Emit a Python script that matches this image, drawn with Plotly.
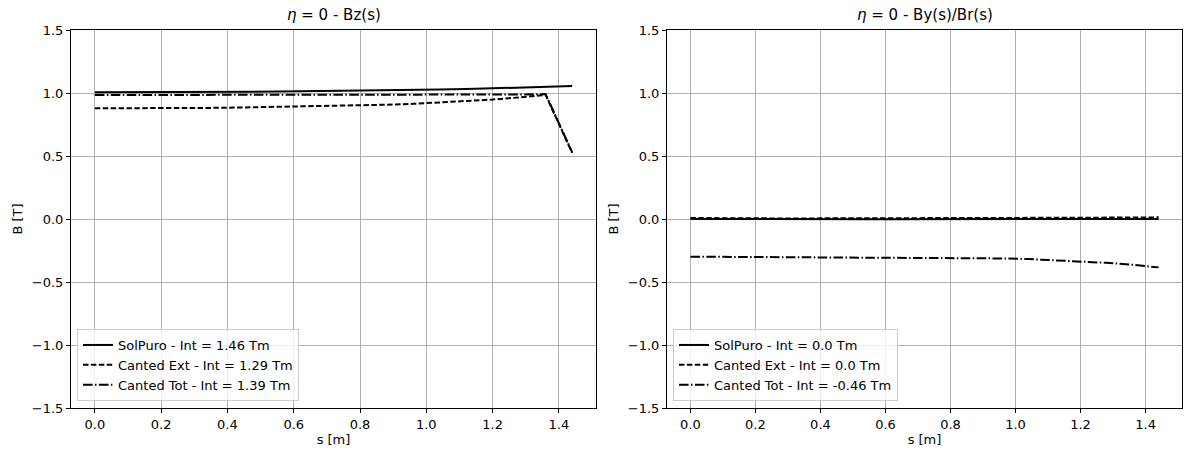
import plotly.graph_objects as go

s = [0.00, 0.08, 0.16, 0.24, 0.32, 0.40, 0.48, 0.56, 0.64, 0.72,
     0.80, 0.88, 0.96, 1.04, 1.12, 1.20, 1.28, 1.36, 1.44]

bz_solpuro = [1.005, 1.005, 1.006, 1.006, 1.007, 1.008, 1.009, 1.011, 1.013, 1.015,
              1.017, 1.020, 1.023, 1.027, 1.031, 1.036, 1.042, 1.048, 1.055]
bz_ext = [0.879, 0.878, 0.878, 0.879, 0.881, 0.883, 0.886, 0.889, 0.893, 0.897,
          0.901, 0.907, 0.914, 0.924, 0.935, 0.948, 0.965, 0.985, 0.525]
bz_tot = [0.984, 0.984, 0.984, 0.984, 0.984, 0.984, 0.984, 0.984, 0.984, 0.984,
          0.984, 0.984, 0.984, 0.984, 0.985, 0.986, 0.988, 0.991, 0.530]

by_solpuro = [0.000, -0.001, -0.002, -0.002, -0.002, -0.002, -0.002, -0.002, -0.001, -0.001,
              -0.001, -0.001, 0.000, 0.000, 0.000, 0.000, 0.000, 0.000, 0.000]
by_ext = [0.008, 0.006, 0.004, 0.004, 0.004, 0.005, 0.005, 0.006, 0.006, 0.007,
          0.007, 0.008, 0.008, 0.009, 0.010, 0.010, 0.011, 0.012, 0.013]
by_tot = [-0.299, -0.300, -0.300, -0.301, -0.301, -0.302, -0.302, -0.303, -0.303, -0.304,
          -0.305, -0.308, -0.313, -0.318, -0.326, -0.336, -0.348, -0.363, -0.384]

names_left = ["SolPuro - Int = 1.46 Tm", "Canted Ext - Int = 1.29 Tm", "Canted Tot - Int = 1.39 Tm"]
names_right = ["SolPuro - Int = 0.0 Tm", "Canted Ext - Int = 0.0 Tm", "Canted Tot - Int = -0.46 Tm"]
titles = ["<i>η</i> = 0 - Bz(s)", "<i>η</i> = 0 - By(s)/Br(s)"]
x_ticks = [0.0, 0.2, 0.4, 0.6, 0.8, 1.0, 1.2, 1.4]
y_ticks = [-1.5, -1.0, -0.5, 0.0, 0.5, 1.0, 1.5]

dashes = ["solid", "5.5px,2.4px", "9.6px,2.4px,1.5px,2.4px"]

fig = go.Figure()
for vals, name, d in zip([bz_solpuro, bz_ext, bz_tot], names_left, dashes):
    fig.add_trace(go.Scatter(x=s, y=vals, mode="lines", name=name,
                             line=dict(color="black", width=2, dash=d),
                             xaxis="x", yaxis="y", legend="legend"))
for vals, name, d in zip([by_solpuro, by_ext, by_tot], names_right, dashes):
    fig.add_trace(go.Scatter(x=s, y=vals, mode="lines", name=name,
                             line=dict(color="black", width=2, dash=d),
                             xaxis="x2", yaxis="y2", legend="legend2"))

W, H = 1192, 452
ytop, ybot = 30, 408
dom_y = [1 - ybot / H, 1 - ytop / H]
dom_x1 = [71 / W, 596 / W]
dom_x2 = [667 / W, 1182 / W]

font = dict(family="DejaVu Sans", size=13, color="black")

def xaxis(dom, anchor):
    return dict(domain=dom, anchor=anchor, range=[-0.072, 1.512], tickvals=x_ticks,
                ticktext=[f"{v:.1f}" for v in x_ticks], automargin=False,
                showline=True, mirror=True, linecolor="black", linewidth=1,
                ticks="outside", ticklen=4, tickcolor="black",
                showgrid=True, gridcolor="#b0b0b0", gridwidth=1, zeroline=False,
                title=dict(text="s [m]", font=font, standoff=4), tickfont=font)

def yaxis(anchor):
    return dict(domain=dom_y, anchor=anchor, range=[-1.5, 1.5], tickvals=y_ticks,
                ticktext=[f"{v:.1f}".replace("-", "\u2212") for v in y_ticks], automargin=False,
                showline=True, mirror=True, linecolor="black", linewidth=1,
                ticks="outside", ticklen=4, tickcolor="black",
                showgrid=True, gridcolor="#b0b0b0", gridwidth=1, zeroline=False,
                title=dict(text="B [T]", font=font, standoff=6), tickfont=font)

legend_common = dict(bgcolor="rgba(255,255,255,0.8)", bordercolor="#cccccc", borderwidth=1,
                     font=dict(family="DejaVu Sans", size=13, color="black"),
                     xanchor="left", yanchor="bottom", tracegroupgap=0, itemwidth=30)

fig.update_layout(
    width=W, height=H, margin=dict(l=0, r=0, t=0, b=0),
    paper_bgcolor="white", plot_bgcolor="white",
    font=font,
    xaxis=xaxis(dom_x1, "y"), yaxis=yaxis("x"),
    xaxis2=xaxis(dom_x2, "y2"), yaxis2=yaxis("x2"),
    legend=dict(x=77 / W, y=1 - 401 / H, **legend_common),
    legend2=dict(x=673 / W, y=1 - 401 / H, **legend_common),
    annotations=[
        dict(text=titles[0], x=(dom_x1[0] + dom_x1[1]) / 2, y=1 - 26 / H, xref="paper", yref="paper",
             showarrow=False, xanchor="center", yanchor="bottom",
             font=dict(family="DejaVu Sans", size=15, color="black")),
        dict(text=titles[1], x=(dom_x2[0] + dom_x2[1]) / 2, y=1 - 26 / H, xref="paper", yref="paper",
             showarrow=False, xanchor="center", yanchor="bottom",
             font=dict(family="DejaVu Sans", size=15, color="black")),
    ],
)

fig.write_html("out.html", config={"displayModeBar": False},
               post_script="document.body.style.margin='0';document.body.style.overflow='hidden';")
